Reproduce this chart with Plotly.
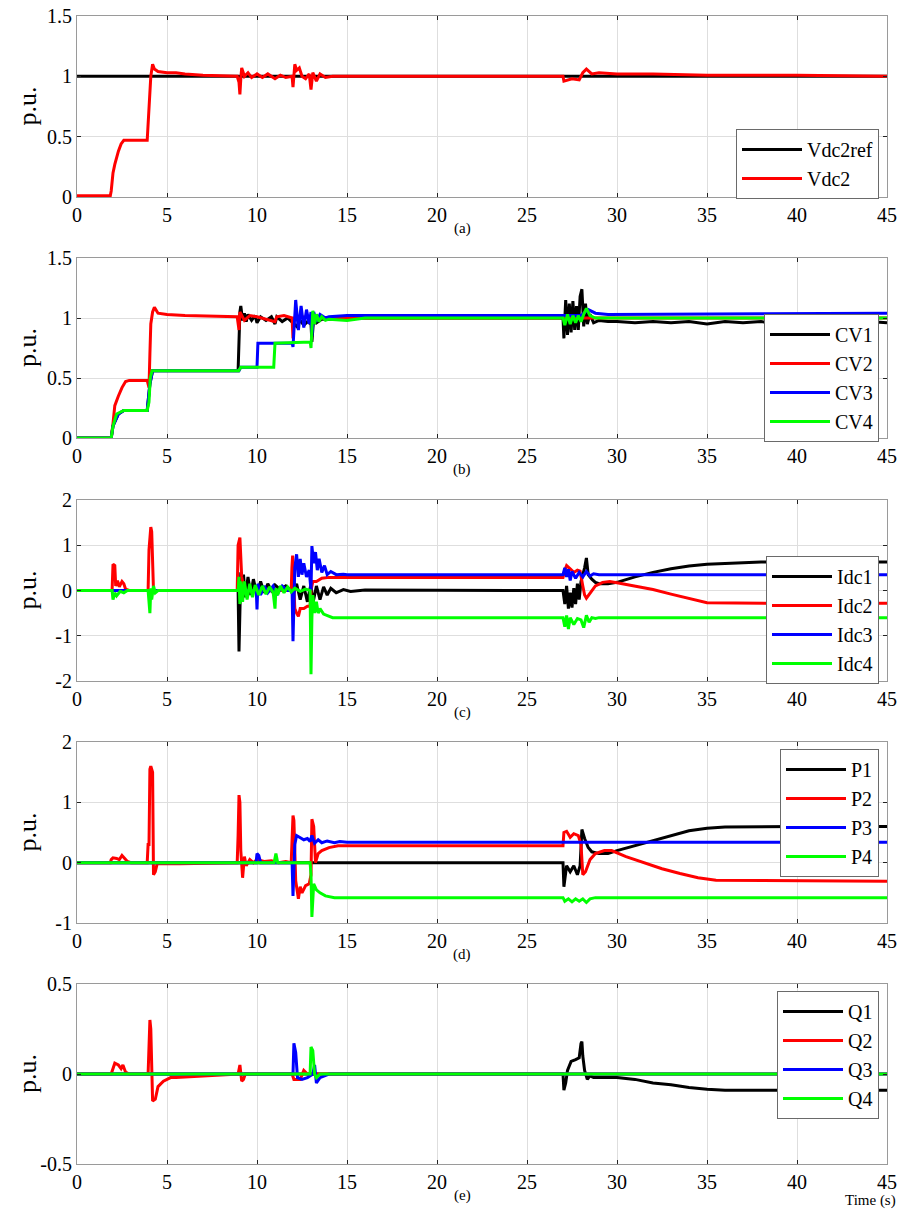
import plotly.graph_objects as go

# ---------------- data ----------------
# (a) DC voltage of station 2
a_ref_t = [0, 45]
a_ref_v = [1.0, 1.0]
a_vdc2_t = [0, 1.85, 1.9, 2.0, 2.1, 2.2, 2.3, 2.45, 2.6, 3.9, 3.95, 4.0, 4.05, 4.1, 4.2, 4.3, 4.5, 5.0, 5.5,
            6.0, 7.0, 8.9, 9.0, 9.05, 9.1, 9.15, 9.3, 9.5, 9.7, 10.0, 10.3, 10.6, 11.0, 11.3, 11.6, 11.95, 12.0,
            12.05, 12.1, 12.2, 12.35, 12.5, 12.7, 12.9, 13.0, 13.1, 13.3, 13.5, 13.8, 14.2, 27.0, 27.05, 27.5,
            27.9, 28.1, 28.3, 28.6, 29.0, 30.0, 32.0, 35.0, 40.0, 45.0]
a_vdc2_v = [0.01, 0.01, 0.05, 0.2, 0.27, 0.33, 0.38, 0.44, 0.47, 0.47, 0.62, 0.8, 0.95, 1.0, 1.1, 1.06, 1.04, 1.03,
            1.03, 1.02, 1.01, 1.0, 0.95, 0.85, 0.98, 1.07, 1.0, 1.03, 0.99, 1.02, 0.99, 1.02, 0.98, 1.01, 0.99, 1.0,
            0.91, 1.02, 1.1, 1.05, 1.07, 1.0, 0.98, 1.02, 0.89, 1.03, 0.96, 1.02, 0.99, 1.0, 1.0, 0.96, 0.98, 0.97,
            1.03, 1.06, 1.02, 1.03, 1.02, 1.02, 1.01, 1.01, 1.0]

# (b) capacitor voltages CV1..CV4
b_cv1_t = [0, 1.9, 2.0, 2.3, 2.6, 3.9, 4.05, 4.2, 8.95, 9.0, 9.05, 9.1, 9.2, 9.3, 9.4, 9.5, 9.7, 9.9, 10.0, 10.2,
           10.5, 10.8, 11.0, 11.1, 11.4, 11.7, 12.0, 12.2, 12.4, 12.6, 12.8, 13.0, 13.05, 13.15, 13.3, 13.6, 14.0,
           15.0, 27.0, 27.05, 27.15, 27.25, 27.35, 27.45, 27.55, 27.65, 27.75, 27.85, 27.95, 28.05, 28.15, 28.25,
           28.35, 28.5, 28.7, 29.0, 29.5, 30.0, 31.0, 32.0, 33.0, 34.0, 35.0, 36.0, 37.0, 38.0, 39.0, 40.0, 41.0,
           42.0, 43.0, 44.0, 45.0]
b_cv1_v = [0, 0, 0.1, 0.2, 0.23, 0.23, 0.45, 0.56, 0.56, 0.9, 1.05, 1.1, 0.98, 1.04, 0.97, 1.03, 0.98, 1.02, 0.96,
           1.01, 0.98, 1.01, 0.95, 1.01, 0.97, 1.0, 0.96, 0.93, 0.98, 0.94, 0.97, 0.95, 0.8, 1.0, 0.96, 0.99, 0.99,
           1.0, 1.0, 0.83, 1.15, 0.86, 1.12, 0.88, 1.14, 0.9, 1.1, 0.9, 1.18, 1.24, 0.93, 1.12, 0.95, 1.03, 0.96,
           0.98, 0.97, 0.97, 0.96, 0.97, 0.96, 0.97, 0.95, 0.97, 0.96, 0.97, 0.95, 0.97, 0.96, 0.97, 0.95, 0.97, 0.96]
b_cv2_t = [0, 1.9, 2.0, 2.1, 2.3, 2.5, 2.7, 2.9, 3.9, 4.0, 4.05, 4.1, 4.2, 4.3, 4.5, 5.0, 6.0, 8.9, 9.0, 9.05, 9.3,
           9.6, 10.0, 11.0, 11.1, 11.5, 11.95, 12.0, 12.05, 12.5, 13.0, 45.0]
b_cv2_v = [0, 0, 0.12, 0.27, 0.35, 0.42, 0.47, 0.48, 0.48, 0.42, 0.7, 0.95, 1.05, 1.09, 1.04, 1.03, 1.02, 1.01, 0.9,
           1.05, 0.98, 1.02, 1.01, 0.97, 1.01, 1.02, 1.0, 0.83, 1.0, 1.01, 1.0, 1.0]
b_cv3_t = [0, 1.9, 2.0, 2.3, 2.6, 3.9, 4.05, 4.2, 9.0, 9.1, 10.0, 10.05, 11.95, 12.0, 12.15, 12.3, 12.45, 12.6, 12.75,
           12.9, 13.0, 13.05, 13.15, 13.3, 13.5, 13.8, 14.0, 15.0, 27.0, 28.0, 28.4, 28.8, 29.5, 45.0]
b_cv3_v = [0, 0, 0.1, 0.2, 0.23, 0.23, 0.45, 0.56, 0.56, 0.59, 0.59, 0.79, 0.79, 0.76, 1.15, 0.9, 1.1, 0.92, 1.07,
           0.95, 1.05, 0.85, 1.05, 0.97, 1.03, 1.0, 1.01, 1.02, 1.02, 1.02, 1.07, 1.04, 1.03, 1.04]
b_cv4_t = [0, 1.9, 2.0, 2.2, 2.6, 3.9, 4.0, 4.07, 4.17, 8.98, 9.1, 10.93, 11.0, 12.5, 12.96, 13.0, 13.1, 13.2, 13.3,
           13.45, 13.6, 13.8, 14.0, 15.0, 16.0, 27.0, 27.1, 27.25, 27.4, 27.55, 27.7, 27.85, 28.0, 28.15, 28.3,
           28.5, 28.8, 29.5, 30.0, 45.0]
b_cv4_v = [0, 0, 0.1, 0.2, 0.23, 0.23, 0.3, 0.5, 0.56, 0.56, 0.59, 0.59, 0.79, 0.8, 0.8, 0.75, 1.06, 0.95, 1.03,
           0.97, 1.01, 0.98, 0.99, 0.98, 1.0, 1.0, 0.94, 1.03, 0.95, 1.02, 0.96, 1.02, 0.97, 1.03, 1.08, 1.02, 1.0,
           1.0, 1.0, 1.0]

# (c) DC currents Idc1..Idc4
c_i1_t = [0, 8.95, 9.0, 9.05, 9.1, 9.15, 9.25, 9.35, 9.5, 9.65, 9.8, 10.0, 10.2, 10.4, 10.6, 10.8, 11.0, 11.3, 11.6,
          11.9, 12.0, 12.2, 12.4, 12.6, 12.8, 13.0, 13.1, 13.3, 13.5, 13.7, 13.9, 14.1, 14.4, 14.8, 15.2, 16.0,
          27.0, 27.1, 27.2, 27.3, 27.4, 27.5, 27.6, 27.7, 27.8, 27.9, 28.0, 28.2, 28.3, 28.4, 28.6, 28.8, 29.0,
          29.5, 30.0, 31.0, 32.0, 33.0, 34.0, 35.0, 36.0, 38.0, 40.0, 45.0]
c_i1_v = [0, 0, -1.35, -0.5, 0.4, -0.2, 0.35, -0.15, 0.3, -0.1, 0.25, -0.1, 0.2, -0.05, 0.15, 0.0, 0.12, 0.02, 0.1,
          0.0, -0.1, 0.15, -0.2, 0.1, -0.25, 0.15, -0.3, 0.1, -0.2, 0.08, -0.1, 0.05, -0.05, 0.02, -0.02, 0.01,
          0.0, -0.3, 0.1, -0.4, -0.05, -0.38, 0.05, -0.3, 0.15, -0.2, 0.2, 0.5, 0.72, 0.35, 0.25, 0.18, 0.15,
          0.15, 0.18, 0.3, 0.4, 0.48, 0.54, 0.58, 0.6, 0.63, 0.63, 0.63]
c_i2_t = [0, 1.95, 2.0, 2.1, 2.15, 2.25, 2.35, 2.5, 2.6, 2.7, 2.9, 3.95, 4.0, 4.05, 4.1, 4.15, 4.2, 4.25, 8.9, 8.95,
          9.05, 9.15, 9.3, 11.9, 11.94, 11.98, 12.05, 12.1, 12.2, 12.3, 12.4, 12.6, 12.8, 12.95, 13.0, 13.1, 13.3,
          13.6, 14.0, 27.0, 27.1, 27.2, 27.4, 27.6, 27.8, 27.95, 28.1, 28.2, 28.3, 28.5, 28.8, 29.2, 29.6, 30.0,
          31.0, 32.0, 33.0, 34.0, 34.8, 35.0, 40.0, 45.0]
c_i2_v = [0, 0, 0.58, 0.55, 0.1, 0.22, 0.08, 0.2, 0.15, 0.03, 0.0, 0.0, 0.9, 1.2, 1.4, 1.3, 0.6, 0.0, 0.0, 1.0,
          1.17, 0.3, 0.0, 0.0, 0.5, 0.77, 0.1, -0.4, -0.5, -0.57, -0.4, -0.4, -0.35, -0.35, 0.0, 0.2, 0.2,
          0.27, 0.29, 0.29, 0.45, 0.55, 0.48, 0.4, 0.45, 0.43, 0.1, -0.1, -0.17, -0.05, 0.1, 0.18, 0.2, 0.17,
          0.1, 0.02, -0.08, -0.18, -0.26, -0.27, -0.29, -0.28]
c_i3_t = [0, 9.9, 9.95, 10.0, 10.05, 10.2, 10.4, 10.6, 10.9, 11.1, 11.4, 11.7, 11.95, 12.0, 12.05, 12.1, 12.2, 12.3,
          12.4, 12.5, 12.6, 12.75, 12.9, 13.0, 13.05, 13.15, 13.25, 13.35, 13.45, 13.6, 13.75, 13.9, 14.1, 14.4,
          14.8, 15.0, 27.0, 27.1, 27.2, 27.3, 27.4, 27.5, 27.7, 27.9, 28.1, 28.3, 28.5, 28.7, 29.0, 45.0]
c_i3_v = [0, 0, 0.1, -0.42, 0.15, -0.1, 0.1, -0.05, 0.1, -0.1, 0.1, 0.0, 0.0, -1.12, -0.3, 0.5, 0.8, 0.3, 0.7,
          0.35, 0.6, 0.3, 0.45, 0.0, 0.98, 0.6, 0.85, 0.45, 0.7, 0.4, 0.55, 0.35, 0.42, 0.35, 0.36, 0.35, 0.35,
          0.5, 0.3, 0.47, 0.22, 0.42, 0.27, 0.4, 0.3, 0.42, 0.32, 0.37, 0.35, 0.35]
c_i4_t = [0, 1.95, 2.0, 2.1, 2.2, 2.4, 2.6, 2.8, 3.95, 4.0, 4.05, 4.1, 4.15, 4.25, 4.35, 4.5, 8.95, 9.0, 9.05, 9.1,
          9.2, 9.3, 9.45, 9.6, 9.75, 9.9, 10.1, 10.3, 10.5, 10.7, 10.9, 11.0, 11.05, 11.15, 11.3, 11.5, 11.7, 11.9,
          12.1, 12.4, 12.7, 12.95, 13.0, 13.05, 13.1, 13.2, 13.3, 13.4, 13.5, 13.7, 13.9, 14.2, 15.5, 27.0, 27.1,
          27.2, 27.3, 27.4, 27.6, 27.8, 28.0, 28.15, 28.3, 28.45, 28.6, 28.8, 29.0, 45.0]
c_i4_v = [0, 0, -0.2, -0.05, -0.12, -0.02, -0.05, 0.0, 0.0, -0.3, -0.5, 0.05, -0.2, 0.1, -0.05, 0.0, 0.0, 0.3,
          -0.3, 0.2, -0.25, 0.2, -0.2, 0.15, -0.15, 0.12, -0.1, 0.1, -0.08, 0.08, -0.05, -0.4, 0.05, -0.1, 0.1,
          -0.05, 0.08, -0.03, 0.05, -0.02, 0.03, 0.0, -1.85, -0.6, -0.1, -0.5, -0.25, -0.5, -0.4, -0.52, -0.55,
          -0.6, -0.6, -0.6, -0.8, -0.55, -0.85, -0.6, -0.75, -0.62, -0.65, -0.82, -0.55, -0.7, -0.6, -0.62, -0.6,
          -0.6]

# (d) active power P1..P4
d_p1_t = [0, 27.0, 27.05, 27.2, 27.4, 27.6, 27.8, 27.95, 28.05, 28.2, 28.4, 28.6, 29.0, 29.5, 30.0, 31.0, 32.0,
          33.0, 34.0, 35.0, 36.0, 40.0, 45.0]
d_p1_v = [0, 0, -0.4, -0.05, -0.15, -0.05, -0.2, -0.05, 0.55, 0.4, 0.25, 0.18, 0.15, 0.15, 0.2, 0.28, 0.37, 0.45,
          0.53, 0.57, 0.59, 0.6, 0.6]
d_p2_t = [0, 1.85, 1.9, 2.0, 2.2, 2.35, 2.5, 2.6, 2.8, 3.0, 3.9, 3.95, 4.0, 4.05, 4.1, 4.2, 4.25, 4.35, 4.45, 5.7,
          8.9, 8.95, 9.0, 9.05, 9.1, 9.2, 9.3, 9.4, 9.6, 9.8, 10.0, 10.4, 10.8, 11.2, 11.6, 11.9, 11.95, 12.0,
          12.05, 12.15, 12.3, 12.4, 12.5, 12.7, 12.9, 13.0, 13.05, 13.15, 13.25, 13.4, 13.6, 14.0, 14.5, 27.0,
          27.05, 27.2, 27.4, 27.6, 27.85, 28.0, 28.1, 28.25, 28.5, 28.8, 29.3, 29.7, 30.5, 31.5, 32.5, 33.5, 34.5,
          35.5, 40.0, 45.0]
d_p2_v = [0, 0, 0.05, 0.08, 0.07, 0.05, 0.12, 0.09, 0.02, 0.0, 0.0, 0.3, 0.3, 1.55, 1.6, 1.5, -0.2, -0.15, -0.02,
          -0.02, 0.0, 0.45, 1.12, 1.0, 0.2, -0.25, 0.1, -0.05, 0.05, 0.0, 0.05, 0.02, 0.03, 0.0, 0.02, 0.0, 0.3,
          0.78, 0.7, -0.3, -0.6, -0.4, -0.5, -0.38, -0.35, -0.2, 0.72, 0.6, 0.0, 0.15, 0.2, 0.25, 0.28, 0.28, 0.5,
          0.52, 0.42, 0.48, 0.45, 0.3, -0.2, -0.15, 0.05, 0.15, 0.2, 0.2, 0.1, 0.0, -0.1, -0.18, -0.25, -0.29,
          -0.3, -0.31]
d_p3_t = [0, 9.95, 10.0, 10.1, 10.2, 11.95, 12.0, 12.05, 12.1, 12.2, 12.4, 12.6, 12.8, 12.95, 13.05, 13.2, 13.4,
          13.6, 13.9, 14.3, 14.6, 15.0, 45.0]
d_p3_v = [0, 0, 0.15, 0.12, 0.0, 0.0, -0.55, -0.2, 0.3, 0.45, 0.42, 0.38, 0.4, 0.35, 0.45, 0.32, 0.38, 0.33, 0.36,
          0.33, 0.35, 0.34, 0.34]
d_p4_t = [0, 10.95, 11.05, 11.15, 12.95, 13.0, 13.05, 13.15, 13.3, 13.5, 13.8, 14.3, 27.0, 27.1, 27.3, 27.5, 27.7,
          27.9, 28.1, 28.3, 28.5, 28.8, 45.0]
d_p4_v = [0, 0, 0.15, 0.0, 0.0, -0.2, -0.9, -0.35, -0.45, -0.5, -0.55, -0.58, -0.58, -0.64, -0.6, -0.65, -0.6,
          -0.64, -0.6, -0.66, -0.6, -0.58, -0.58]

# (e) reactive power Q1..Q4
e_q1_t = [0, 27.0, 27.05, 27.15, 27.25, 27.45, 27.7, 27.9, 28.0, 28.05, 28.1, 28.2, 28.35, 28.5, 28.7, 29.0, 30.0,
          31.0, 32.0, 33.0, 34.0, 35.0, 36.0, 40.0, 45.0]
e_q1_v = [0, 0, -0.09, -0.05, 0.02, 0.07, 0.08, 0.09, 0.17, 0.18, 0.1, 0.02, -0.03, -0.01, -0.02, -0.02, -0.02,
          -0.03, -0.05, -0.06, -0.075, -0.085, -0.09, -0.09, -0.09]
e_q2_t = [0, 1.9, 2.1, 2.3, 2.45, 2.55, 2.7, 2.9, 3.95, 4.0, 4.05, 4.1, 4.15, 4.2, 4.35, 4.5, 4.8, 5.2, 5.5, 8.95,
          9.05, 9.1, 9.15, 9.25, 9.35, 11.95, 12.05, 12.4, 12.6, 12.8, 45.0]
e_q2_v = [0, 0, 0.06, 0.05, 0.03, 0.05, 0.01, 0.0, 0.0, 0.2, 0.3, 0.25, 0.0, -0.15, -0.14, -0.07, -0.04, -0.02,
          -0.02, 0.0, 0.05, 0.0, -0.04, -0.03, 0.0, 0.0, -0.03, -0.03, 0.02, 0.0, 0.0]
e_q3_t = [0, 12.0, 12.05, 12.15, 12.25, 12.5, 12.8, 13.1, 13.2, 13.3, 13.5, 14.0, 45.0]
e_q3_v = [0, 0, 0.17, 0.12, -0.02, -0.03, -0.02, 0.0, 0.05, -0.05, -0.02, 0.0, 0.0]
e_q4_t = [0, 12.95, 13.0, 13.1, 13.2, 13.3, 13.5, 45.0]
e_q4_v = [0, 0, 0.15, 0.13, 0.0, -0.02, 0.0, 0.0]

panel_letters = ["(a)", "(b)", "(c)", "(d)", "(e)"]
x_ticks = [0, 5, 10, 15, 20, 25, 30, 35, 40, 45]
y_ticks = [[0, 0.5, 1, 1.5], [0, 0.5, 1, 1.5], [-2, -1, 0, 1, 2], [-1, 0, 1, 2], [-0.5, 0, 0.5]]
y_tick_text = [["0", "0.5", "1", "1.5"], ["0", "0.5", "1", "1.5"], ["-2", "-1", "0", "1", "2"],
               ["-1", "0", "1", "2"], ["-0.5", "0", "0.5"]]
y_ranges = [[0, 1.5], [0, 1.5], [-2, 2], [-1, 2], [-0.5, 0.5]]

# ---------------- figure ----------------
W, H = 899, 1209
FONT = "Liberation Serif"
BLACK, RED, BLUE, GREEN = "#000000", "#ff0000", "#0000ff", "#00ff00"


def px_x(x):
    return x / W


def px_y(y):
    return 1 - y / H


panels = [
    [("Vdc2ref", a_ref_t, a_ref_v, BLACK), ("Vdc2", a_vdc2_t, a_vdc2_v, RED)],
    [("CV1", b_cv1_t, b_cv1_v, BLACK), ("CV2", b_cv2_t, b_cv2_v, RED),
     ("CV3", b_cv3_t, b_cv3_v, BLUE), ("CV4", b_cv4_t, b_cv4_v, GREEN)],
    [("Idc1", c_i1_t, c_i1_v, BLACK), ("Idc2", c_i2_t, c_i2_v, RED),
     ("Idc3", c_i3_t, c_i3_v, BLUE), ("Idc4", c_i4_t, c_i4_v, GREEN)],
    [("P1", d_p1_t, d_p1_v, BLACK), ("P2", d_p2_t, d_p2_v, RED),
     ("P3", d_p3_t, d_p3_v, BLUE), ("P4", d_p4_t, d_p4_v, GREEN)],
    [("Q1", e_q1_t, e_q1_v, BLACK), ("Q2", e_q2_t, e_q2_v, RED),
     ("Q3", e_q3_t, e_q3_v, BLUE), ("Q4", e_q4_t, e_q4_v, GREEN)],
]

tops = [16, 258, 500, 742, 984]
bottoms = [197, 438, 681, 923, 1164]
legend_tops = [129, 314, 556, 749, 991]
x0, x1 = 77, 887

fig = go.Figure()
layout = dict(
    width=W, height=H, margin=dict(l=0, r=0, t=0, b=0, pad=0, autoexpand=False),
    paper_bgcolor="white", plot_bgcolor="white",
    font=dict(family=FONT, size=20, color="black"),
    annotations=[],
)

for i, series in enumerate(panels):
    n = i + 1
    xa = "x" if n == 1 else f"x{n}"
    ya = "y" if n == 1 else f"y{n}"
    lg = "legend" if n == 1 else f"legend{n}"
    for name, t, v, col in series:
        fig.add_trace(go.Scatter(x=t, y=v, mode="lines", name=name,
                                 line=dict(color=col, width=3),
                                 xaxis=xa, yaxis=ya, legend=lg))
    axis_common = dict(showline=True, linecolor="#9a9a9a", linewidth=1, mirror="ticks",
                       ticks="inside", ticklen=4, tickcolor="#222222", tickwidth=1,
                       showgrid=True, gridcolor="#dedede", gridwidth=1, zeroline=False,
                       automargin=False, ticklabeloverflow="allow",
                       tickfont=dict(family=FONT, size=20, color="black"))
    xkey = "xaxis" if n == 1 else f"xaxis{n}"
    ykey = "yaxis" if n == 1 else f"yaxis{n}"
    layout[xkey] = dict(axis_common, domain=[px_x(x0), px_x(x1)], range=[0, 45],
                        tickvals=x_ticks, anchor=ya)
    layout[ykey] = dict(axis_common, domain=[px_y(bottoms[i]), px_y(tops[i])],
                        range=y_ranges[i], tickvals=y_ticks[i], ticktext=y_tick_text[i],
                        anchor=xa)
    layout[lg] = dict(x=px_x(879), xanchor="right", y=px_y(legend_tops[i]), yanchor="top",
                      xref="paper", yref="paper",
                      bgcolor="white", bordercolor="#6a6a6a", borderwidth=1,
                      font=dict(family=FONT, size=20, color="black"),
                      tracegroupgap=0, itemwidth=60)
    layout["annotations"].append(dict(text="p.u.", xref="paper", yref="paper",
                                      x=px_x(27), y=px_y((tops[i] + bottoms[i]) / 2),
                                      textangle=-90, showarrow=False,
                                      font=dict(family=FONT, size=26, color="black"),
                                      xanchor="center", yanchor="middle"))
    layout["annotations"].append(dict(text=panel_letters[i], xref="paper", yref="paper",
                                      x=px_x(462), y=px_y(bottoms[i] + 31),
                                      showarrow=False,
                                      font=dict(family=FONT, size=15, color="black"),
                                      xanchor="center", yanchor="middle"))

layout["annotations"].append(dict(text="Time (s)", xref="paper", yref="paper",
                                  x=px_x(898), y=px_y(1200), showarrow=False,
                                  font=dict(family=FONT, size=15, color="black"),
                                  xanchor="right", yanchor="middle"))
fig.update_layout(**layout)
# remove the browser's default 8 px body margin so the figure fills the window exactly
fig.write_html("out.html",
               config={"displayModeBar": False},
               post_script="document.body.style.margin='0';document.body.style.overflow='hidden';")
